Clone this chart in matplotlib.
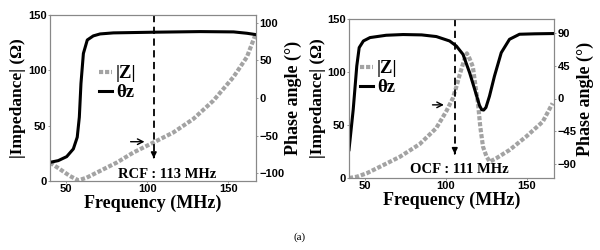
import numpy as np
import matplotlib
matplotlib.use('Agg')
import matplotlib.pyplot as plt

# RCF panel (left)
rcf_f_z = [40, 46.2, 52.3, 57.5, 62.6, 70.9, 81.1, 91.4, 103.8, 116.1, 128.4, 140.8, 153.1, 161.4, 167]
rcf_z = [16.6, 10.6, 4.5, 0.6, 3, 9.1, 16.6, 25.7, 34.8, 43.9, 56.1, 72.7, 93.9, 112, 133.4]
rcf_f_ph = [40, 45.1, 50.3, 54.4, 56.8, 58.1, 59.1, 60.6, 63, 66.7, 70.9, 79.1, 103.8, 132.6, 153.2, 161.4, 167]
rcf_ph = [-85.3, -83, -77.7, -67.5, -52, -25.3, 19.2, 59, 76.9, 82.3, 84.9, 86.3, 87.2, 88, 87.6, 85.8, 84]

# OCF panel (right)
ocf_f_z = [40, 44.8, 50.9, 61, 71.5, 83.8, 94, 100.1, 104.3, 106.8, 108.5, 111, 113, 114.6, 116.7,
           118.4, 119.9, 121.3, 123, 125.2, 127.2, 131.2, 139.4, 149.7, 160, 166.1]
ocf_z = [0, 1.2, 4.4, 12, 20, 32, 47, 62.5, 75.2, 87.7, 97.2, 109.7, 117.6, 112.9, 105,
         86.1, 70.5, 48.4, 29.5, 20.1, 15.4, 18.6, 26.4, 39, 53.1, 70.5]
ocf_f_ph = [40, 42.6, 44.8, 46.3, 48.9, 53, 63, 73.5, 85, 94.1, 102.3, 106.5, 110.6, 114.7, 118.8,
            120.8, 122.2, 123.4, 124.8, 127, 130.1, 134.3, 139.4, 145.6, 155, 167]
ocf_ph = [-70.8, -15.3, 44.9, 70.4, 79.6, 84.3, 87.5, 88.5, 88, 85.7, 79.6, 72.6, 61.1, 35.7, 5.6,
          -9.5, -15.5, -16, -12.5, 3.2, 31, 63.4, 81.9, 88.9, 89.5, 89.9]

panels = [
    dict(pos=[0.0833, 0.276, 0.3433, 0.664], fz=rcf_f_z, z=rcf_z, fph=rcf_f_ph, ph=rcf_ph,
         yt2=[-100, -50, 0, 50, 100], mark=104, label='RCF : 113 MHz', lab_xy=(112, 6),
         arr=(88, 100, 35.5), dash_end=18, leg=(0.165, 0.74)),
    dict(pos=[0.5817, 0.288, 0.3417, 0.636], fz=ocf_f_z, z=ocf_z, fph=ocf_f_ph, ph=ocf_ph,
         yt2=[-90, -45, 0, 45, 90], mark=105.5, label='OCF : 111 MHz', lab_xy=(108.5, 8),
         arr=(90, 100.5, 69), dash_end=20, leg=(0.60, 0.76)),
]

gray = '#a3a3a3'
serif = 'Liberation Serif'
sans = 'Liberation Sans'

fig = plt.figure(figsize=(6, 2.5), dpi=100)

for p in panels:
    ax = fig.add_axes(p['pos'])
    ax2 = ax.twinx()
    l1, = ax.plot(p['fz'], p['z'], color=gray, lw=3, ls=(0, (1, 0.45)), label='|Z|')
    l2, = ax2.plot(p['fph'], p['ph'], color='black', lw=2.2, label='θz')
    ax.set_xlim(40, 167)
    ax.set_ylim(0, 150)
    ax2.set_ylim(-110, 110)
    ax.set_xticks([50, 100, 150])
    ax.set_yticks([0, 50, 100, 150])
    ax2.set_yticks(p['yt2'])
    for a in (ax, ax2):
        for s in a.spines.values():
            s.set_color('#888888')
            s.set_linewidth(0.8)
        a.tick_params(length=1.5, width=0.6, color='#888888', pad=1, labelsize=8)
        for t in a.get_xticklabels() + a.get_yticklabels():
            t.set_fontfamily(sans)
            t.set_fontweight('bold')
    ax.set_xlabel('Frequency (MHz)', fontfamily=serif, fontweight='bold', fontsize=13, labelpad=0)
    ax.set_ylabel('|Impedance| (Ω)', fontfamily=serif, fontweight='bold', fontsize=12.5, labelpad=1)
    ax2.set_ylabel('Phase angle (°)', fontfamily=serif, fontweight='bold', fontsize=13, labelpad=0)

    # dashed marker line with arrowhead
    ax.plot([p['mark'], p['mark']], [150, p['dash_end'] + 4], color='black', lw=1.3, ls=(0, (4, 2.5)))
    ax.annotate('', xy=(p['mark'], p['dash_end']), xytext=(p['mark'], p['dash_end'] + 6),
                arrowprops=dict(arrowstyle='-|>', color='black', lw=1.2, mutation_scale=8))
    ax.text(p['lab_xy'][0], p['lab_xy'][1], p['label'], ha='center', va='center',
            fontfamily=serif, fontweight='bold', fontsize=10.5)
    x0, x1, ya = p['arr']
    ax.annotate('', xy=(x1, ya), xytext=(x0, ya),
                arrowprops=dict(arrowstyle='->', color='black', lw=1.0))

    fig.legend([l1, l2], ['|Z|', 'θz'], loc='upper left', bbox_to_anchor=p['leg'],
               frameon=False, handlelength=0.7, handletextpad=0.2, labelspacing=0.1,
               borderaxespad=0, borderpad=0,
               prop=dict(family=serif, weight='bold', size=13.5))

fig.text(0.5, 0.05, '(a)', ha='center', va='center', fontfamily=serif, fontsize=8)

fig.savefig('out.png', dpi=100)
